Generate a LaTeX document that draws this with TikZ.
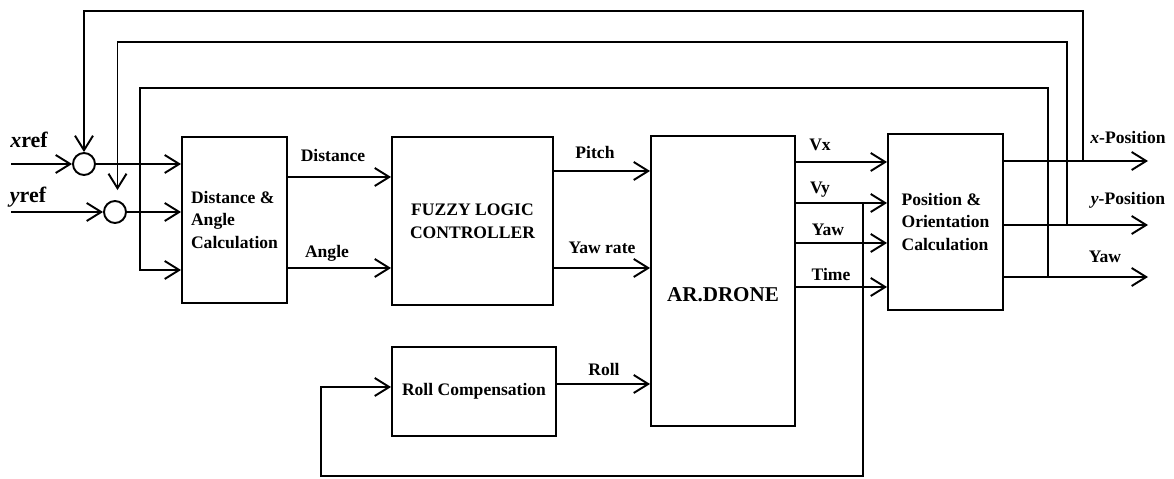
\documentclass[tikz,border=0pt]{standalone}
\usepackage{fontspec}
\setmainfont{Liberation Serif}
\usetikzlibrary{arrows.meta}

\begin{document}
\begin{tikzpicture}[
      x=0.02cm, y=-0.02cm,
      font=\fontsize{10}{13}\selectfont\bfseries,
      line width=1.1pt,
      block/.style={draw, rectangle, inner sep=0pt, align=center},
      sumpt/.style={draw, circle, minimum size=0.44cm, inner sep=0pt},
      refname/.style={font=\fontsize{12.5}{14}\selectfont\bfseries},
      arrow/.style={-{Straight Barb[length=2.9mm, width=3.6mm]}}
    ]
    \useasboundingbox (0,0) rectangle (1174,479);

    \node[block, minimum width=2.1cm, minimum height=3.32cm, align=left] (calc) at (234.5,220) {Distance \&\\Angle\\Calculation};
    \node[block, minimum width=3.22cm, minimum height=3.36cm] (flc) at (472.5,221) {FUZZY LOGIC\\CONTROLLER};
    \node[block, minimum width=2.88cm, minimum height=5.8cm] (drone) at (723,281) {};
    \node[font=\fontsize{12}{14}\selectfont\bfseries] (droneText) at (723,295) {AR.DRONE};
    \node[block, minimum width=3.28cm, minimum height=1.78cm] (rollc) at (474,391.5) {Roll Compensation};
    \node[block, minimum width=2.3cm, minimum height=3.52cm, align=left] (poc) at (945.5,222) {Position \&\\Orientation\\Calculation};
    \node[sumpt] (sumx) at (84,164) {};
    \node[sumpt] (sumy) at (115,212) {};

    % signal names
    \node[refname] (lblXref) at (29,140) {\textit{x}ref};
    \node[refname] (lblYref) at (28,197) {\textit{y}ref};
    \node (lblDist) at (333,155) {Distance};
    \node (lblAngle) at (327,253) {Angle};
    \node (lblPitch) at (595,152) {Pitch};
    \node (lblYawRate) at (602,248) {Yaw rate};
    \node (lblRoll) at (604,369) {Roll};
    \node (lblVx) at (820,145) {Vx};
    \node (lblVy) at (820,190) {Vy};
    \node (lblYawIn) at (828,230) {Yaw};
    \node (lblTime) at (831,274) {Time};
    \node (lblXpos) at (1128,137) {\textit{x}-Position};
    \node (lblYpos) at (1128,200) {\textit{y}-Position};
    \node (lblYawOut) at (1105,257) {Yaw};

    \coordinate (xin) at (11,164);
    \coordinate (yin) at (11,212);
    \coordinate (rowDist) at (0,177);
    \coordinate (rowAngle) at (0,268);
    \coordinate (rowPitch) at (0,171);
    \coordinate (rowYawRate) at (0,268);
    \coordinate (rowRoll) at (0,384);
    \coordinate (rowVx) at (0,162);
    \coordinate (rowVy) at (0,203);
    \coordinate (rowYaw) at (0,243);
    \coordinate (rowTime) at (0,287);
    \coordinate (xout) at (1148,161);
    \coordinate (yout) at (1148,225);
    \coordinate (yawout) at (1148,277);

    % feedback points
    \coordinate (fbX) at (1083,161);
    \coordinate (fbY) at (1067,225);
    \coordinate (fbYaw) at (1048,277);
    \coordinate (fbYawTop) at (140,88);
    \coordinate (rowFbYaw) at (0,270);
    \coordinate (fbVy) at (863,203);
    \coordinate (fbRollBot) at (321,476);
    \coordinate (rowRollIn) at (0,387);

    \draw[arrow] (xin) -- (sumx);
    \draw[arrow] (yin) -- (sumy);
    \draw[arrow] (sumx) -- (sumx -| calc.west);
    \draw[arrow] (sumy) -- (sumy -| calc.west);
    \draw[arrow] (calc.east |- rowDist) -- (flc.west |- rowDist);
    \draw[arrow] (calc.east |- rowAngle) -- (flc.west |- rowAngle);
    \draw[arrow] (flc.east |- rowPitch) -- (drone.west |- rowPitch);
    \draw[arrow] (flc.east |- rowYawRate) -- (drone.west |- rowYawRate);
    \draw[arrow] (rollc.east |- rowRoll) -- (drone.west |- rowRoll);
    \draw[arrow] (drone.east |- rowVx) -- (poc.west |- rowVx);
    \draw[arrow] (drone.east |- rowVy) -- (poc.west |- rowVy);
    \draw[arrow] (drone.east |- rowYaw) -- (poc.west |- rowYaw);
    \draw[arrow] (drone.east |- rowTime) -- (poc.west |- rowTime);
    \draw[arrow] (poc.east |- xout) -- (xout);
    \draw[arrow] (poc.east |- yout) -- (yout);
    \draw[arrow] (poc.east |- yawout) -- (yawout);

    \draw[arrow] (fbX) -- ++(0,-150) -| (sumx.north);
    \draw[arrow] (fbY) -- ++(0,-183) -| ([xshift=0.05cm, yshift=0.2cm]sumy.north);
    \draw[arrow] (fbYaw) |- (fbYawTop) |- (calc.west |- rowFbYaw);
    \draw[arrow] (fbVy) |- (fbRollBot) |- (rollc.west |- rowRollIn);
  \end{tikzpicture}
\end{document}
